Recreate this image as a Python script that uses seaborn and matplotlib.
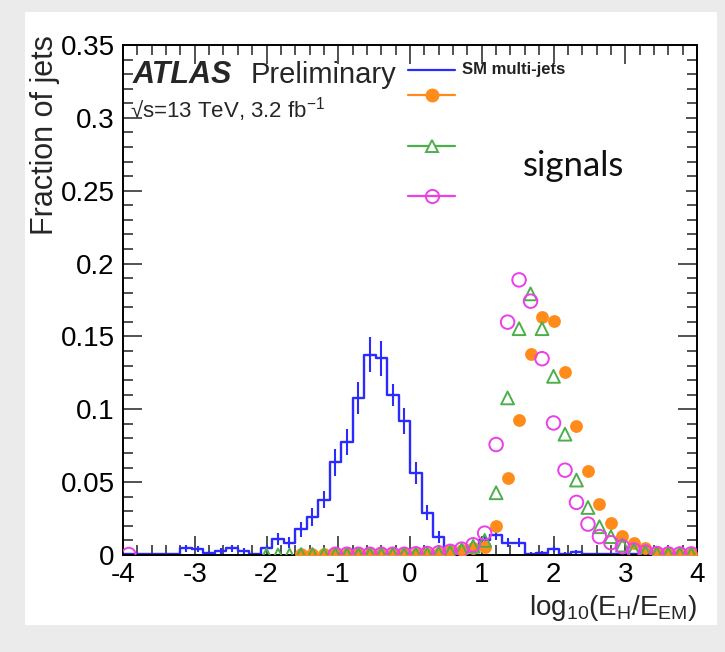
import numpy as np
import pandas as pd
import seaborn as sns
import matplotlib.pyplot as plt
from matplotlib.patches import Rectangle

# --- dados (50 bins de -4 a 4) ---
n_bins = 50
bin_edges = np.linspace(-4, 4, n_bins + 1)
bin_centers = (bin_edges[:-1] + bin_edges[1:]) / 2

nan = np.nan

# SM multi-jets (histograma azul)
sm_multijets = [
    0.0005, 0.0005, 0.0005, 0.0005, 0.0008, 0.0045, 0.004, 0.0015, 0.003, 0.0045,
    0.003, 0.0005, 0.0045, 0.011, 0.0085, 0.0175, 0.026, 0.038, 0.0635, 0.0776,
    0.108, 0.1375, 0.135, 0.110, 0.092, 0.056, 0.029, 0.0125, 0.0015, 0.003,
    0.006, 0.010, 0.014, 0.0085, 0.0085, 0.001, 0.0015, 0.004, 0.001, 0.002,
    0.0007, 0.0007, 0.0007, 0.0007, 0.0007, 0.0007, 0.0007, 0.0007, 0.0007, 0.0007,
]
sm_multijets_err = [
    0.0005, 0.0005, 0.0005, 0.0005, 0.0005, 0.0025, 0.002, 0.001, 0.002, 0.0025,
    0.002, 0.0005, 0.0025, 0.004, 0.0035, 0.005, 0.006, 0.006, 0.009, 0.009,
    0.011, 0.012, 0.012, 0.0075, 0.009, 0.0075, 0.005, 0.004, 0.001, 0.0015,
    0.002, 0.003, 0.004, 0.003, 0.003, 0.001, 0.001, 0.002, 0.001, 0.0015,
    0.0005, 0.0005, 0.0005, 0.0005, 0.0005, 0.0005, 0.0005, 0.0005, 0.0005, 0.0005,
]

# sinais (pontos)
signal_orange = [
    nan, nan, nan, nan, nan, nan, nan, nan, nan, nan,
    nan, nan, nan, nan, nan, 0.0005, 0.0005, 0.0005, 0.0005, 0.0005,
    0.0005, 0.0005, 0.0005, 0.0005, 0.0005, 0.0008, 0.001, 0.0015, 0.0025, 0.0035,
    0.005, 0.0057, 0.0199, 0.0525, 0.0929, 0.1379, 0.1632, 0.1603, 0.1256, 0.0886,
    0.0575, 0.0349, 0.0217, 0.013, 0.008, 0.005, 0.0023, 0.0012, 0.0008, 0.0007,
]
signal_green = [
    nan, nan, nan, nan, nan, nan, nan, nan, nan, nan,
    nan, nan, 0.0, 0.0, 0.0, 0.0003, 0.0003, 0.0003, 0.0004, 0.0004,
    0.0004, 0.0004, 0.0004, 0.0004, 0.0004, 0.0006, 0.0008, 0.0012, 0.002, 0.0035,
    0.006, 0.010, 0.0427, 0.1078, 0.1553, 0.1792, 0.1553, 0.1226, 0.0829, 0.0514,
    0.0326, 0.0194, 0.0126, 0.0068, 0.0034, 0.002, 0.001, 0.0007, 0.0007, 0.0007,
]
signal_magenta = [
    0.0003, nan, nan, nan, nan, nan, nan, nan, nan, nan,
    nan, nan, nan, nan, nan, nan, nan, nan, 0.0005, 0.0005,
    0.0005, 0.0005, 0.0005, 0.0005, 0.0005, 0.0008, 0.001, 0.0015, 0.0025, 0.004,
    0.007, 0.015, 0.0758, 0.1598, 0.1888, 0.1742, 0.1347, 0.0906, 0.0582, 0.0361,
    0.0212, 0.0126, 0.0084, 0.0057, 0.0034, 0.002, 0.001, 0.0007, 0.0007, 0.0007,
]

x_ticks = [-4, -3, -2, -1, 0, 1, 2, 3, 4]
x_tick_labels = ['-4', '-3', '-2', '-1', '0', '1', '2', '3', '4']
y_ticks = [0, 0.05, 0.1, 0.15, 0.2, 0.25, 0.3, 0.35]
y_tick_labels = ['0', '0.05', '0.1', '0.15', '0.2', '0.25', '0.3', '0.35']

c_blue = '#2b2bff'
c_orange = '#ff8c1a'
c_green = '#4caf4a'
c_magenta = '#ea3fea'

df = pd.DataFrame({
    'x': bin_centers,
    'sm': sm_multijets,
    'sm_err': sm_multijets_err,
    'orange': signal_orange,
    'green': signal_green,
    'magenta': signal_magenta,
})

# --- estilo ---
sns.set_theme(style='ticks')
plt.rcParams['font.family'] = ['Liberation Sans', 'DejaVu Sans']
plt.rcParams['mathtext.fontset'] = 'custom'
plt.rcParams['mathtext.rm'] = 'Liberation Sans'
plt.rcParams['mathtext.it'] = 'Liberation Sans:italic'
plt.rcParams['axes.unicode_minus'] = False

fig = plt.figure(figsize=(7.25, 6.52), dpi=100, facecolor='#ebebeb')
fig.patches.append(Rectangle((0.0345, 0.0414), 0.954, 0.940, transform=fig.transFigure,
                             facecolor='white', edgecolor='none', zorder=-10))
ax = fig.add_axes([0.1697, 0.1488, 0.7917, 0.7822])
ax.set_zorder(1)

# histograma SM
sns.histplot(data=df, x='x', weights='sm', bins=n_bins, binrange=(-4, 4),
             element='step', fill=False, color=c_blue, linewidth=1.7, ax=ax)
ax.errorbar(df['x'], df['sm'], yerr=df['sm_err'], fmt='none',
            ecolor=c_blue, elinewidth=1.5)

# sinais
ax.scatter(df['x'], df['orange'], marker='o', s=85, color=c_orange,
           linewidths=0, zorder=4)
ax.scatter(df['x'], df['green'], marker='^', s=85, facecolors='none',
           edgecolors=c_green, linewidths=1.4, zorder=4)
ax.scatter(df['x'], df['magenta'], marker='o', s=95, facecolors='none',
           edgecolors=c_magenta, linewidths=1.4, zorder=5)

ax.set_xlim(-4, 4)
ax.set_ylim(0, 0.35)
ax.set_xticks(x_ticks)
ax.set_xticklabels(x_tick_labels)
ax.set_yticks(y_ticks)
ax.set_yticklabels(y_tick_labels)
ax.xaxis.set_minor_locator(plt.MultipleLocator(0.2))
ax.yaxis.set_minor_locator(plt.MultipleLocator(0.01))
ax.tick_params(which='both', direction='in', top=True, right=True, width=1.2,
               colors='#333333', labelcolor='black', labelsize=20)
ax.tick_params(which='major', length=14, pad=6)
ax.tick_params(which='minor', length=7)
ax.tick_params(axis='x', pad=5)
for sp in ax.spines.values():
    sp.set_linewidth(1.4)
    sp.set_color('black')
ax.set_ylabel('')
ax.set_xlabel(r'log$_{10}$(E$_{\mathrm{H}}$/E$_{\mathrm{EM}}$)', fontsize=20)
ax.xaxis.set_label_coords(1.0, -0.075)
ax.xaxis.label.set_horizontalalignment('right')
ax.xaxis.label.set_verticalalignment('top')

fig.text(45 / 725, 1 - 35 / 652, 'Fraction of jets', rotation=90, ha='center',
         va='top', fontsize=22)

# textos ATLAS
ax.text(0.017, 0.941, 'ATLAS', transform=ax.transAxes, fontsize=22, weight='bold',
        style='italic', va='center', ha='left')
ax.text(0.222, 0.941, 'Preliminary', transform=ax.transAxes, fontsize=21,
        va='center', ha='left')
ax.text(0.012, 0.873, '\u221as=13 TeV, 3.2 fb$^{-1}$',
        transform=ax.transAxes, fontsize=16, va='center', ha='left')

# legenda manual
leg_x = [0.4965, 0.578]
ax.plot(leg_x, [0.951, 0.951], color=c_blue, lw=1.6, transform=ax.transAxes)
ax.plot(leg_x, [0.902, 0.902], color=c_orange, lw=1.6, transform=ax.transAxes)
ax.plot([0.538], [0.902], marker='o', ms=9, color=c_orange, transform=ax.transAxes)
ax.plot(leg_x, [0.802, 0.802], color=c_green, lw=1.6, transform=ax.transAxes)
ax.plot([0.538], [0.802], marker='^', ms=9, mfc='white', mec=c_green, mew=1.4,
        transform=ax.transAxes)
ax.plot(leg_x, [0.704, 0.704], color=c_magenta, lw=1.6, transform=ax.transAxes)
ax.plot([0.538], [0.704], marker='o', ms=9.5, mfc='none', mec=c_magenta, mew=1.4,
        transform=ax.transAxes)
ax.text(0.5906, 0.951, 'SM multi-jets', transform=ax.transAxes, fontsize=12,
        weight='bold', color='#222222', va='center', ha='left')

# caixa branca por cima dos rótulos dos sinais
ax.add_patch(Rectangle((0.5906, 0.661), 0.39, 0.266, transform=ax.transAxes,
                       facecolor='white', edgecolor='none', zorder=6))
ax.text(0.7857, 0.762, 'signals', transform=ax.transAxes, fontsize=25,
        family=['Lato', 'DejaVu Sans'], weight='normal', color='#111111',
        ha='center', va='center', zorder=7)

plt.savefig('out.png', dpi=100, facecolor=fig.get_facecolor())
